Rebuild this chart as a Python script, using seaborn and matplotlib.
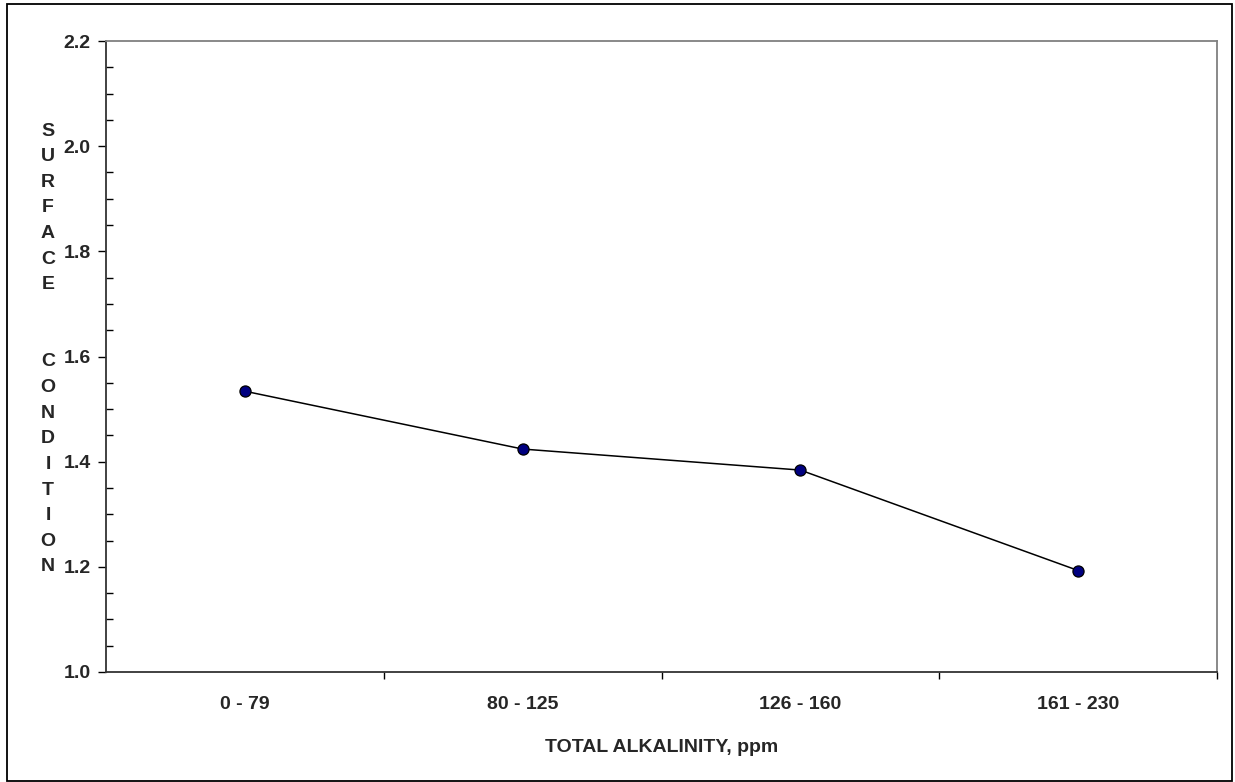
import matplotlib
matplotlib.use("Agg")
import matplotlib.pyplot as plt
import seaborn as sns
import pandas as pd
from matplotlib.patches import Rectangle
from matplotlib.ticker import MultipleLocator, FixedLocator

# data
categories = ["0 - 79", "80 - 125", "126 - 160", "161 - 230"]
surface_condition = [1.534, 1.424, 1.384, 1.193]

x_label = "TOTAL ALKALINITY, ppm"
y_label = "SURFACE  CONDITION"

sns.set_style("white")
plt.rcParams["font.family"] = ["Liberation Sans", "DejaVu Sans"]
plt.rcParams["font.weight"] = "bold"

df = pd.DataFrame({"range": categories, "value": surface_condition})

fig = plt.figure(figsize=(12.35, 7.82), dpi=100)
ax = fig.add_axes([106 / 1235, 1 - 672 / 782, (1217 - 106) / 1235, (672 - 41) / 782])

sns.lineplot(data=df, x="range", y="value", ax=ax, color="black", linewidth=1.1,
             marker="o", markersize=8, markerfacecolor="#000080",
             markeredgecolor="black", markeredgewidth=0.9, sort=False)

ax.set_xlim(-0.5, len(categories) - 0.5)
ax.set_ylim(1.0, 2.2)

# y axis: majors outside, minors inside
ax.yaxis.set_major_locator(MultipleLocator(0.2))
ax.yaxis.set_minor_locator(MultipleLocator(0.05))
ax.yaxis.set_major_formatter(matplotlib.ticker.FormatStrFormatter("%.1f"))
ax.tick_params(axis="y", which="major", direction="out", length=6, width=1,
               color="black", labelsize=14, pad=5, left=True)
ax.tick_params(axis="y", which="minor", direction="in", length=5, width=1,
               color="black", left=True)

# x axis: labels at centres, tick marks at category boundaries
ax.xaxis.set_minor_locator(FixedLocator([i + 0.5 for i in range(len(categories))]))
ax.tick_params(axis="x", which="major", length=0, labelsize=14, pad=17.5)
ax.tick_params(axis="x", which="minor", direction="out", length=5, width=1,
               color="black", bottom=True)

for lab in ax.get_xticklabels() + ax.get_yticklabels():
    lab.set_fontweight("bold")

ax.set_xlabel(x_label, fontsize=14, fontweight="bold", labelpad=18.5)
ax.set_ylabel("")

for side in ["left", "bottom"]:
    ax.spines[side].set_color("#333333")
    ax.spines[side].set_linewidth(1.3)
for side in ["top", "right"]:
    ax.spines[side].set_color("#808080")
    ax.spines[side].set_linewidth(1.3)

# stacked vertical y label, Excel style
fig.text(48 / 1235, 1 - 349 / 782, "\n".join(y_label), ha="center", va="center",
         fontsize=14, fontweight="bold", linespacing=1.665)

# outer chart border
fig.patches.append(Rectangle((7 / 1235, 1 / 782), 1225 / 1235, 777 / 782,
                             transform=fig.transFigure, fill=False,
                             edgecolor="black", linewidth=1.3))

fig.savefig("out.png", dpi=100)
